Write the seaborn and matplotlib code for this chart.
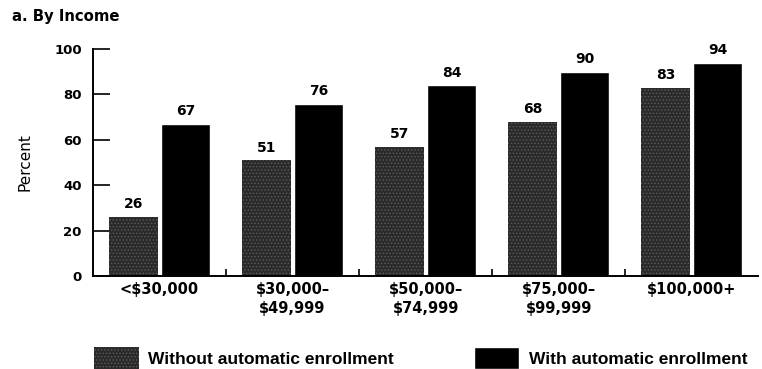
import matplotlib
matplotlib.use("Agg")
import matplotlib.pyplot as plt
import pandas as pd
import seaborn as sns

# Données
categories = ["<$30,000", "$30,000–\n$49,999", "$50,000–\n$74,999",
              "$75,000–\n$99,999", "$100,000+"]
sans_auto = [26, 51, 57, 68, 83]
avec_auto = [67, 76, 84, 90, 94]
series = ["Without automatic enrollment", "With automatic enrollment"]

sns.set_theme(style="white")
plt.rcParams.update({
    "font.family": ["DejaVu Sans"],
    "text.color": "black",
    "axes.labelcolor": "black",
    "xtick.color": "black",
    "ytick.color": "black",
    "hatch.linewidth": 0.6,
})

df = pd.DataFrame({
    "income": categories * 2,
    "percent": sans_auto + avec_auto,
    "serie": [series[0]] * len(categories) + [series[1]] * len(categories),
})

PALETTE = {series[0]: "#2a2a2a", series[1]: "#000000"}

fig = plt.figure(figsize=(7.62, 3.69), dpi=100)
ax = fig.add_axes([0.122, 0.252, 0.873, 0.615])

sns.barplot(data=df, x="income", y="percent", hue="serie", palette=PALETTE,
            width=0.78, gap=0.06, saturation=1, ax=ax, legend=False)

# texture pointillée pour la série sans adhésion automatique
for p in ax.containers[0]:
    p.set_hatch(".....")
    p.set_edgecolor("#5c5c5c")
    p.set_linewidth(0)

for cont in ax.containers:
    ax.bar_label(cont, fmt="%d", padding=4, fontsize=10, fontweight="bold")

ax.set_ylim(0, 100)
ax.set_xlim(-0.5, len(categories) - 0.5)
ax.set_yticks([0, 20, 40, 60, 80, 100])
ax.tick_params(axis="y", left=True, direction="in", length=12, width=1.2,
               labelsize=9.5, pad=8)
ax.tick_params(axis="x", bottom=False, labelsize=10.5, pad=-2)
ax.set_xticks([0.5, 1.5, 2.5, 3.5], minor=True)
ax.tick_params(axis="x", which="minor", bottom=True, direction="in",
               length=5, width=1.2)
for lab in ax.get_xticklabels():
    lab.set_fontweight("bold")
    lab.set_linespacing(1.4)
for lab in ax.get_yticklabels():
    lab.set_fontweight("bold")
ax.set_xlabel("")
ax.set_ylabel("Percent", fontsize=11, labelpad=16,
              family=["Liberation Sans Narrow", "DejaVu Sans"])

sns.despine(ax=ax)
for side in ["left", "bottom"]:
    ax.spines[side].set_linewidth(1.4)
    ax.spines[side].set_color("black")

fig.text(0.016, 0.954, "a. By Income", fontsize=10.7, fontweight="bold",
         va="center")

handles = [plt.Rectangle((0, 0), 1, 1, facecolor=PALETTE[s]) for s in series]
handles[0].set_hatch(".....")
handles[0].set_edgecolor("#5c5c5c")
handles[0].set_linewidth(0)
fig.legend(handles, series, loc="center left", bbox_to_anchor=(0.123, 0.03),
           ncol=2, frameon=False, handlelength=2.6,
           handleheight=1.6, handletextpad=0.55, columnspacing=4.6,
           borderaxespad=0, borderpad=0,
           prop={"family": "Liberation Sans", "weight": "bold", "size": 12.5})

fig.savefig("out.png", dpi=100)
